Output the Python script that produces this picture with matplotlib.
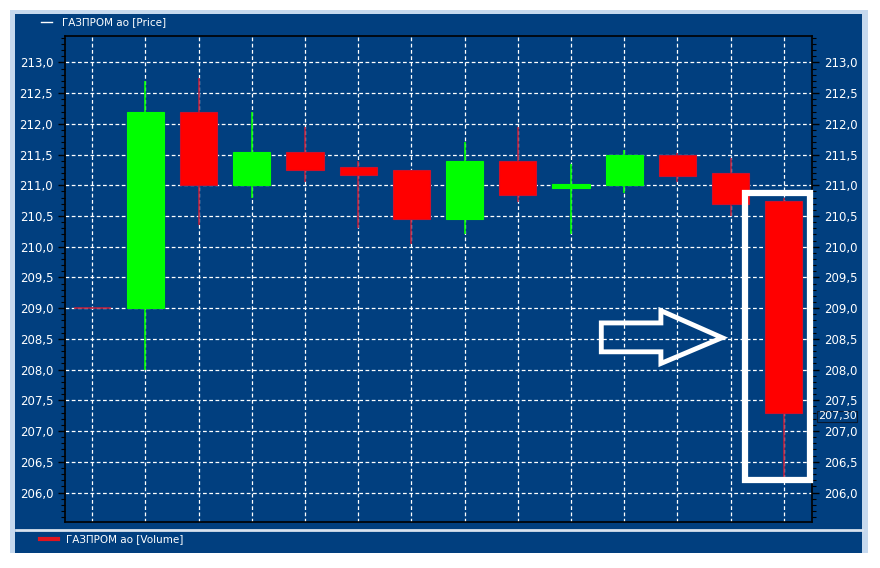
import numpy as np
import matplotlib
matplotlib.use("Agg")
import matplotlib.pyplot as plt
from matplotlib.patches import Rectangle, Polygon
from matplotlib.ticker import FuncFormatter, MultipleLocator
from matplotlib.transforms import blended_transform_factory, offset_copy

# candles
opens = [209.0, 209.0, 212.2, 211.0, 211.55, 211.3, 211.25, 210.45, 211.4, 210.95, 211.0, 211.5, 211.2, 210.75]
closes = [209.0, 212.2, 211.0, 211.55, 211.25, 211.17, 210.45, 211.4, 210.85, 211.02, 211.5, 211.15, 210.7, 207.3]
highs = [209.0, 212.7, 212.75, 212.2, 211.95, 211.4, 211.25, 211.7, 211.95, 211.35, 211.58, 211.52, 211.45, 210.8]
lows = [209.0, 208.0, 210.35, 210.8, 211.05, 210.3, 210.05, 210.2, 210.73, 210.2, 210.87, 211.05, 210.5, 206.25]

price_label = "ГАЗПРОМ ао [Price]"
volume_label = "ГАЗПРОМ ао [Volume]"

PANEL = "#013f7f"
FRAME = "#c6d9ee"
UP = "#00ff00"
DOWN = "#ff0000"
DOWN_WICK = "#b3203f"


def comma(v, pos=None):
    return f"{v:.1f}".replace(".", ",")


def main():
    W, H = 880, 568
    fig = plt.figure(figsize=(W / 100, H / 100), dpi=100, facecolor="white")

    # window frame and dark panel (pixel coords -> figure fraction)
    def px_rect(x0, y0, x1, y1, color, z):
        fig.patches.append(Rectangle((x0 / W, 1 - y1 / H), (x1 - x0) / W, (y1 - y0) / H,
                                     transform=fig.transFigure, facecolor=color,
                                     edgecolor="none", zorder=z))

    px_rect(10, 10, 868, 553, FRAME, 0)
    px_rect(15, 14, 862, 553, PANEL, 1)
    # separator line between price and volume panes
    fig.add_artist(plt.Line2D([16 / W, 862 / W], [1 - 530 / H, 1 - 530 / H],
                              transform=fig.transFigure, color="#d8e2ee", lw=2, zorder=2))

    # legends
    fig.add_artist(plt.Line2D([41 / W, 52 / W], [1 - 22 / H, 1 - 22 / H],
                              transform=fig.transFigure, color="white", lw=1, zorder=3))
    fig.text(62 / W, 1 - 22 / H, price_label, color="white", fontsize=7.5,
             va="center", ha="left", family="DejaVu Sans")
    fig.add_artist(plt.Line2D([40 / W, 58 / W], [1 - 539 / H, 1 - 539 / H],
                              transform=fig.transFigure, color="#e0141e", lw=3, zorder=3))
    fig.text(66 / W, 1 - 539 / H, volume_label, color="white", fontsize=7.5,
             va="center", ha="left", family="DejaVu Sans")

    ax = fig.add_axes([65 / W, 1 - 522 / H, (812 - 65) / W, (522 - 36) / H])
    ax.set_facecolor(PANEL)
    ax.set_zorder(5)

    x = np.arange(len(opens))
    o = np.array(opens)
    c = np.array(closes)
    up = c > o
    flat = c == o
    colors = np.where(up, UP, DOWN)
    wick_colors = np.where(up, UP, DOWN_WICK)

    ax.vlines(x, lows, highs, colors=wick_colors, lw=1.2, zorder=3)
    body_w = 0.7
    ax.bar(x[~flat], (c - o)[~flat], bottom=o[~flat], width=body_w,
           color=colors[~flat], edgecolor=np.where(up, UP, "#d0102a")[~flat],
           linewidth=0.8, zorder=4)
    ax.hlines(o[flat], x[flat] - body_w / 2, x[flat] + body_w / 2,
              colors=DOWN_WICK, lw=1.2, zorder=4)

    ax.set_xlim(-0.51, 13.53)
    ax.set_ylim(205.52, 213.43)

    ax.set_xticks(x)
    ax.tick_params(axis="x", length=0, labelbottom=False)
    ax.yaxis.set_major_locator(MultipleLocator(0.5))
    ax.yaxis.set_minor_locator(MultipleLocator(0.1))
    ax.yaxis.set_major_formatter(FuncFormatter(comma))
    ax.tick_params(axis="y", which="both", left=True, right=True,
                   labelleft=True, labelright=True, direction="out",
                   colors="black", labelcolor="white", labelsize=8.5)
    ax.tick_params(axis="y", which="major", length=5, width=1)
    ax.tick_params(axis="y", which="minor", length=3, width=0.8)
    for lab in ax.get_yticklabels():
        lab.set_family("DejaVu Sans")

    ax.grid(True, which="major", color="white", linestyle=(0, (3, 2)), lw=0.9, zorder=1)
    ax.set_axisbelow(True)
    for s in ax.spines.values():
        s.set_color("black")
        s.set_linewidth(1.2)

    # last price tag on the right axis
    tr = offset_copy(blended_transform_factory(ax.transAxes, ax.transData),
                     fig=fig, x=0, y=-2.5, units="points")
    ax.text(1.008, closes[-1], f"{closes[-1]:.2f}".replace(".", ","), transform=tr,
            color="white", fontsize=8, va="center", ha="left", clip_on=False,
            bbox=dict(boxstyle="square,pad=0.05", facecolor=PANEL, edgecolor="#0a1a30", lw=0.8))

    # white box around the last candle
    ax.add_patch(Rectangle((12.27, 206.21), 13.5 - 12.27, 210.87 - 206.21,
                           fill=False, edgecolor="white", lw=4.5, zorder=6, clip_on=False))

    # outline arrow
    arrow = [(9.57, 208.76), (10.69, 208.76), (10.69, 208.96), (11.84, 208.52),
             (10.69, 208.10), (10.69, 208.29), (9.57, 208.29)]
    ax.add_patch(Polygon(arrow, closed=True, fill=False, edgecolor="white",
                         lw=3.5, joinstyle="miter", zorder=6))

    fig.savefig("out.png", dpi=100, facecolor="white")
    plt.close(fig)


if __name__ == "__main__":
    main()
